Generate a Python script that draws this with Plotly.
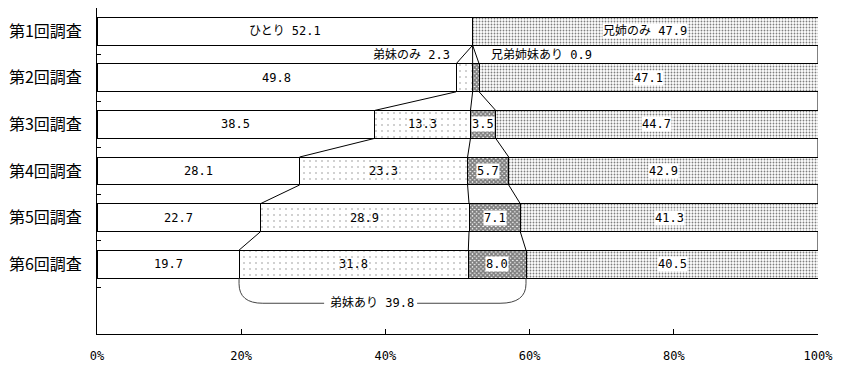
import plotly.graph_objects as go

categories = ["第1回調査", "第2回調査", "第3回調査", "第4回調査", "第5回調査", "第6回調査"]
hitori = [52.1, 49.8, 38.5, 28.1, 22.7, 19.7]
teimai_nomi = [None, 2.3, 13.3, 23.3, 28.9, 31.8]
kyodai_ari = [None, 0.9, 3.5, 5.7, 7.1, 8.0]
kei_nomi = [47.9, 47.1, 44.7, 42.9, 41.3, 40.5]
x_ticks = [0, 20, 40, 60, 80, 100]
x_ticktext = ["0%", "20%", "40%", "60%", "80%", "100%"]
all_cats = categories + [" "]

FONT = "DejaVu Sans Mono, Noto Sans CJK JP, sans-serif"
CJK = "Noto Sans CJK JP, sans-serif"
BW = 0.6

fig = go.Figure()
line = dict(color="black", width=1)
fig.add_trace(go.Bar(y=categories, x=hitori, orientation="h", name="ひとり",
                     marker=dict(color="white", line=line)))
fig.add_trace(go.Bar(y=categories, x=teimai_nomi, orientation="h", name="弟妹のみ",
                     marker=dict(color="white", line=line,
                                 pattern=dict(shape=".", size=6, solidity=0.04,
                                              fgcolor="black", bgcolor="white", fillmode="overlay"))))
fig.add_trace(go.Bar(y=categories, x=kyodai_ari, orientation="h", name="兄弟姉妹あり",
                     marker=dict(color="white", line=line,
                                 pattern=dict(shape="x", size=3, solidity=0.8,
                                              fgcolor="black", bgcolor="white", fillmode="overlay"))))
fig.add_trace(go.Bar(y=categories, x=kei_nomi, orientation="h", name="兄姉のみ",
                     marker=dict(color="white", line=line,
                                 pattern=dict(shape=".", size=3, solidity=0.3,
                                              fgcolor="black", bgcolor="white", fillmode="overlay"))))

series = [hitori, teimai_nomi, kyodai_ari, kei_nomi]
n = len(categories)
cums = []
for i in range(n):
    c = 0
    row = []
    for s in series:
        c += (s[i] or 0)
        row.append(min(c, 100))
    cums.append(row)

shapes = []
for i in range(n - 1):
    for k in range(4):
        shapes.append(dict(type="line", xref="x", yref="y",
                           x0=cums[i][k], y0=i + BW / 2, x1=cums[i + 1][k], y1=i + 1 - BW / 2,
                           line=dict(color="black", width=1)))

annotations = []
def lab(x, y, text, bg=None, **kw):
    d = dict(x=x, y=y, xref="x", yref="y", text=text, showarrow=False,
             font=dict(family=FONT, size=12, color="black"))
    if bg:
        d.update(bgcolor=bg, borderpad=0)
    d.update(kw)
    annotations.append(d)

for i in range(n):
    starts = [0] + cums[i][:-1]
    for k, s in enumerate(series):
        v = s[i]
        if v is None:
            continue
        if i == 1 and k in (1, 2):
            continue
        xc = (starts[k] + cums[i][k]) / 2
        txt = f"{v:.1f}"
        if i == 0 and k == 0:
            txt = "ひとり " + txt
        if i == 0 and k == 3:
            txt = "兄姉のみ " + txt
        bg = "white" if k >= 2 else None
        lab(xc, categories[i], txt, bg)

lab(49.3, 0.5, f"弟妹のみ {teimai_nomi[1]}", xanchor="right")
lab(54.3, 0.5, f"兄弟姉妹あり {kyodai_ari[1]}", xanchor="left")

last = n - 1
xl = cums[last][0]
xr = cums[last][2]
total = round(teimai_nomi[last] + kyodai_ari[last], 1)
yt = last + BW / 2
yb = last + 0.84
xm = 38.1
path = (f"M {xl},{yt} L {xl},{yt+0.12} Q {xl},{yb} {xl+3.3},{yb} L {xm-6.6},{yb} "
        f"M {xm+6.3},{yb} L {xr-3.6},{yb} Q {xr},{yb} {xr},{yt+0.12} L {xr},{yt}")
shapes.append(dict(type="path", xref="x", yref="y", path=path,
                   line=dict(color="#444444", width=1)))
lab(xm, yb, f"弟妹あり {total}")

fig.update_layout(
    barmode="stack", bargap=1 - BW, showlegend=False,
    width=835, height=362,
    margin=dict(l=89, r=25, t=0, b=36, autoexpand=False),
    paper_bgcolor="white", plot_bgcolor="white",
    font=dict(family=FONT, color="black"),
    shapes=shapes, annotations=annotations,
    xaxis=dict(range=[0, 100], tickvals=x_ticks, ticktext=x_ticktext,
               showline=True, linecolor="black", linewidth=1,
               ticks="inside", ticklen=5, tickcolor="black", automargin=False,
               showgrid=False, zeroline=False, ticklabelstandoff=11,
               tickfont=dict(family=FONT, size=12)),
    yaxis=dict(type="category", categoryorder="array", categoryarray=all_cats,
               range=[6.5, -0.5], showline=True, linecolor="black", linewidth=1,
               ticks="inside", ticklen=4, tickcolor="black", tickson="boundaries",
               showgrid=False, zeroline=False, ticklabelstandoff=11, automargin=False,
               tickfont=dict(family=CJK, size=16)),
)

fig.write_html("out.html")
